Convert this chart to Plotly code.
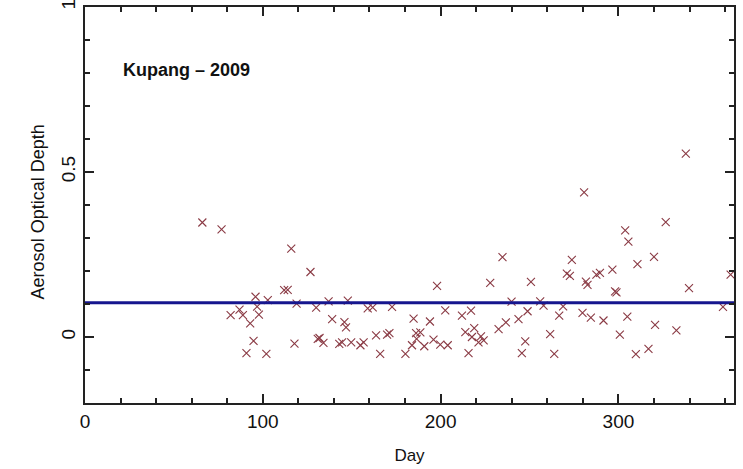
import plotly.graph_objects as go

days = [66.0, 76.8, 81.9, 86.9, 88.8, 90.8, 92.9, 94.8, 95.9, 96.8, 97.8, 102.0, 102.8,
        112.0, 114.0, 116.0, 117.8, 119.0, 126.8, 130.0, 130.9, 131.9, 134.1, 137.0, 139.0,
        143.0, 144.6, 145.9, 146.8, 147.8, 149.7, 154.9, 156.7, 159.0, 161.8, 163.7, 166.0,
        169.9, 171.2, 172.7, 180.2, 183.9, 184.8, 186.2, 186.5, 188.6, 190.8, 194.0, 196.0,
        198.0, 199.8, 202.6, 204.0, 212.0, 213.9, 215.7, 217.1, 217.6, 218.9, 221.3, 222.7,
        224.2, 227.9, 232.6, 234.8, 236.7, 239.9, 243.8, 245.7, 247.6, 248.9, 250.8, 256.0,
        257.9, 261.6, 263.9, 266.7, 268.9, 271.0, 272.7, 273.8, 279.8, 280.7, 281.7, 282.6,
        284.5, 287.6, 289.6, 291.6, 296.6, 298.1, 298.9, 300.8, 303.8, 305.0, 305.6, 309.8,
        310.7, 316.9, 320.0, 320.6, 326.6, 332.6, 337.9, 339.7, 358.8, 363.1]
aod = [0.347, 0.326, 0.066, 0.083, 0.066, -0.049, 0.041, -0.012, 0.122, 0.092, 0.068, -0.051, 0.112,
       0.142, 0.143, 0.268, -0.020, 0.101, 0.197, 0.089, -0.006, -0.003, -0.018, 0.108, 0.054,
       -0.021, -0.016, 0.045, 0.029, 0.110, -0.016, -0.025, -0.016, 0.087, 0.090, 0.005, -0.051,
       0.007, 0.012, 0.091, -0.051, -0.025, 0.056, 0.012, -0.006, 0.014, -0.028, 0.047, -0.008,
       0.155, -0.023, 0.081, -0.025, 0.065, 0.015, -0.049, 0.080, 0.000, 0.027, -0.016, 0.002,
       -0.010, 0.164, 0.024, 0.242, 0.044, 0.107, 0.054, -0.049, -0.013, 0.078, 0.167, 0.108,
       0.095, 0.009, -0.051, 0.065, 0.093, 0.192, 0.185, 0.234, 0.073, 0.438, 0.168, 0.158,
       0.059, 0.189, 0.194, 0.050, 0.204, 0.138, 0.135, 0.007, 0.323, 0.062, 0.289, -0.052,
       0.221, -0.036, 0.243, 0.037, 0.348, 0.020, 0.556, 0.148, 0.091, 0.189]

mean_line_x = [0, 365]
mean_line_y = [0.104, 0.104]

title_text = "Kupang \u2013 2009"
x_title = "Day"
y_title = "Aerosol Optical Depth"
x_range = [0, 365]
y_range = [-0.2, 1]
x_ticks = [0, 100, 200, 300]
y_ticks = [0, 0.5, 1]
y_tick_text = ["0", "0.5", "1"]

FONT = "Liberation Sans"
INK = "#222"

fig = go.Figure()
fig.add_trace(go.Scatter(
    x=days, y=aod, mode="markers",
    marker=dict(symbol="x-thin-open", size=8, color="#8a3a44",
                line=dict(width=1.1, color="#8a3a44")),
    showlegend=False))
fig.add_trace(go.Scatter(
    x=mean_line_x, y=mean_line_y, mode="lines",
    line=dict(color="#16168e", width=3), showlegend=False))
# invisible trace to activate mirror axes (top/right)
fig.add_trace(go.Scatter(x=mean_line_x, y=mean_line_y, xaxis="x2", yaxis="y2",
                         mode="lines", line=dict(width=0), opacity=0,
                         showlegend=False, hoverinfo="skip"))

fig.add_annotation(x=20, y=0.81, xref="x", yref="y", text="<b>" + title_text + "</b>",
                   showarrow=False, xanchor="left", yanchor="middle",
                   font=dict(family=FONT, size=18, color="#111"))
fig.add_annotation(x=-0.072, y=0.482, xref="paper", yref="paper", text=y_title,
                   textangle=-90, showarrow=False, xanchor="center", yanchor="middle",
                   font=dict(family=FONT, size=18, color="#111"))

tick_common = dict(ticks="inside", tickcolor=INK, tickwidth=1.5, ticklen=9,
                   showgrid=False, zeroline=False, automargin=False)

fig.update_layout(
    width=743, height=469, margin=dict(l=85, r=9, t=7, b=66, autoexpand=False),
    plot_bgcolor="white", paper_bgcolor="white",
    xaxis=dict(range=x_range, tickvals=x_ticks, showline=True, linecolor=INK, linewidth=2,
               minor=dict(dtick=20, tick0=0, ticks="inside", ticklen=5, tickwidth=1.5, tickcolor=INK),
               tickfont=dict(family=FONT, size=19, color="#111"), ticklabeloverflow="allow",
               title=dict(text=x_title, font=dict(family=FONT, size=17, color="#111"), standoff=18),
               **tick_common),
    yaxis=dict(range=y_range, tickvals=y_ticks, ticktext=y_tick_text, tickangle=-90,
               showline=True, linecolor=INK, linewidth=2, ticklabeloverflow="allow",
               minor=dict(dtick=0.1, tick0=0, ticks="inside", ticklen=5, tickwidth=1.5, tickcolor=INK),
               tickfont=dict(family=FONT, size=19, color="#111"),
               **tick_common),
    xaxis2=dict(range=x_range, overlaying="x", side="top", tickvals=x_ticks, showticklabels=False,
                showline=True, linecolor=INK, linewidth=2,
                minor=dict(dtick=20, tick0=0, ticks="inside", ticklen=5, tickwidth=1.5, tickcolor=INK),
                **tick_common),
    yaxis2=dict(range=y_range, overlaying="y", side="right", tickvals=y_ticks, showticklabels=False,
                showline=True, linecolor=INK, linewidth=2,
                minor=dict(dtick=0.1, tick0=0, ticks="inside", ticklen=5, tickwidth=1.5, tickcolor=INK),
                **tick_common),
)

fig.write_html("out.html")
